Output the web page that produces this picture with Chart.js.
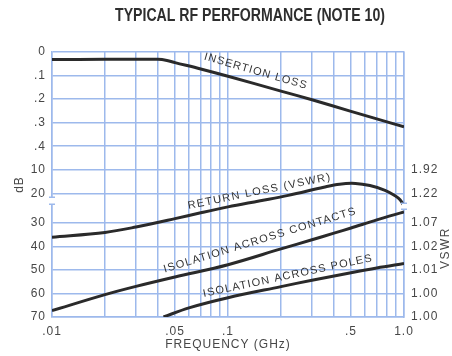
<!DOCTYPE html>
<html>
<head>
<meta charset="utf-8">
<script src="https://cdn.jsdelivr.net/npm/chart.js@4.4.1/dist/chart.umd.min.js"></script>
<style>
  html, body { margin: 0; padding: 0; background: #fff; }
</style>
</head>
<body>
<canvas id="rfChart" width="452" height="356"></canvas>
<script>
// ===== Values =====
// insertion loss (dB, upper 0 - .4 section)
const ilFreq = [0.01, 0.02, 0.03, 0.04, 0.045, 0.05, 0.07, 0.1, 0.2, 0.3, 0.5, 0.7, 1.0];
const insertionLoss = [0.032, 0.031, 0.031, 0.031, 0.036, 0.045, 0.072, 0.103, 0.166, 0.203, 0.252, 0.284, 0.318];

// return loss (dB)
const rlFreq = [0.01, 0.02, 0.03, 0.05, 0.07, 0.1, 0.15, 0.22, 0.35, 0.43, 0.53, 0.64, 0.78, 0.89, 0.95, 1.0];
const returnLoss = [36.1, 34.1, 31.8, 28.6, 26.6, 24.6, 22.6, 20.7, 17.4, 16.1, 15.8, 16.7, 18.7, 20.8, 22.2, 24.2];

// isolation across contacts (dB)
const icFreq = [0.01, 0.02, 0.03, 0.05, 0.1, 0.2, 0.3, 0.4, 0.5, 0.7, 1.0];
const isoContacts = [67.3, 60.5, 57.0, 53.0, 47.8, 41.1, 37.2, 34.4, 32.2, 29.0, 26.3];

// isolation across poles (dB)
const ipFreq = [0.043, 0.06, 0.1, 0.2, 0.3, 0.5, 0.7, 1.0];
const isoPoles = [70, 66.1, 61.8, 57.1, 54.4, 51.2, 49.2, 47.3];

// ===== Ticks =====
const xGridValues = [0.01, 0.02, 0.03, 0.04, 0.05, 0.06, 0.07, 0.08, 0.09,
                     0.1, 0.2, 0.3, 0.4, 0.5, 0.6, 0.7, 0.8, 0.9, 1.0];
const xTickValues = [0.01, 0.05, 0.1, 0.5, 1.0];
const xTickLabels = ['.01', '.05', '.1', '.5', '1.0'];

const ilTicks = [0, 0.1, 0.2, 0.3, 0.4];
const ilTickLabels = ['0', '.1', '.2', '.3', '.4'];
const dbTicks = [10, 20, 30, 40, 50, 60, 70];
const dbTickLabels = ['10', '20', '30', '40', '50', '60', '70'];
const vswrTickLabels = ['1.92', '1.22', '1.07', '1.02', '1.01', '1.00', '1.00'];

// ===== Axis mapping (one grid row per .1 dB / 10 dB, break between 20 and 30) =====
const breakRows = 1.25;
function ilPos(v) { return v * 10; }
function dbPos(d) {
  if (d <= 20) return 4 + d / 10;
  if (d <= 30) return 6 + (d - 20) / 10 * breakRows;
  return 6 + breakRows + (d - 30) / 10;
}

const leftTicks = ilTicks.map((v, i) => ({ pos: ilPos(v), label: ilTickLabels[i] }))
  .concat(dbTicks.map((v, i) => ({ pos: dbPos(v), label: dbTickLabels[i] })));
const rightTicks = dbTicks.map((v, i) => ({ pos: dbPos(v), label: vswrTickLabels[i] }));

const toPoints = (fs, vs, map) => fs.map((f, i) => ({ x: f, y: map(vs[i]) }));

// labels written along the curves
const curveLabels = [
  { text: 'INSERTION LOSS', f: 0.144, y: ilPos(0.082), angle: 16, len: 106 },
  { text: 'RETURN LOSS (VSWR)', f: 0.151, y: dbPos(19.2), angle: -11.5, len: 145 },
  { text: 'ISOLATION ACROSS CONTACTS', f: 0.152, y: dbPos(37.4), angle: -17, len: 200 },
  { text: 'ISOLATION ACROSS POLES', f: 0.219, y: dbPos(52.6), angle: -12, len: 172 }
];

const GRID = '#9db9ec';
const INK = '#2a2a2a';
const TEXT = '#474747';

const extras = {
  id: 'extras',
  beforeDraw(chart) {
    chart.ctx.letterSpacing = '1px';
  },
  afterDraw(chart) {
    const ctx = chart.ctx;
    const { x, y } = chart.scales;
    const area = chart.chartArea;

    // axis breaks
    const y20 = y.getPixelForValue(dbPos(20));
    ctx.save();
    ctx.fillStyle = '#fff';
    ctx.fillRect(area.left - 2, y20 + 4, 4, 7);
    ctx.fillRect(area.right - 2, y20 + 10, 4, 6);
    ctx.strokeStyle = GRID;
    ctx.lineWidth = 1.5;
    ctx.beginPath();
    ctx.moveTo(area.left - 3, y20 + 4); ctx.lineTo(area.left + 3, y20 + 4);
    ctx.moveTo(area.left - 3, y20 + 11); ctx.lineTo(area.left + 3, y20 + 11);
    ctx.moveTo(area.right - 3, y20 + 10); ctx.lineTo(area.right + 3, y20 + 10);
    ctx.moveTo(area.right - 3, y20 + 16); ctx.lineTo(area.right + 3, y20 + 16);
    ctx.stroke();
    ctx.restore();

    // curve labels
    curveLabels.forEach(lab => {
      ctx.save();
      ctx.translate(x.getPixelForValue(lab.f), y.getPixelForValue(lab.y));
      ctx.rotate(lab.angle * Math.PI / 180);
      ctx.font = '11px "Liberation Sans", Arial, sans-serif';
      ctx.letterSpacing = '0px';
      const w = ctx.measureText(lab.text).width;
      ctx.letterSpacing = Math.max(0, (lab.len - w) / (lab.text.length - 1)) + 'px';
      ctx.fillStyle = '#333';
      ctx.textAlign = 'center';
      ctx.textBaseline = 'middle';
      ctx.fillText(lab.text, 0, 0);
      ctx.restore();
    });

    // title
    ctx.save();
    ctx.letterSpacing = '0px';
    ctx.font = 'bold 18px "Liberation Sans", Arial, sans-serif';
    ctx.fillStyle = '#2e2e2e';
    ctx.textAlign = 'center';
    ctx.textBaseline = 'middle';
    ctx.fillText('TYPICAL RF PERFORMANCE (NOTE 10)', 250, 16, 270);
    ctx.restore();

    // right axis title
    ctx.save();
    ctx.translate(446, 248);
    ctx.rotate(-Math.PI / 2);
    ctx.letterSpacing = '1.5px';
    ctx.font = '12px "Liberation Sans", Arial, sans-serif';
    ctx.fillStyle = TEXT;
    ctx.textAlign = 'center';
    ctx.textBaseline = 'middle';
    ctx.fillText('VSWR', 0, 0);
    ctx.restore();
  }
};

const tickFont = { family: '"Liberation Sans", Arial, sans-serif', size: 12 };
const curve = (pts) => ({
  data: pts, borderColor: INK, borderWidth: 3, pointRadius: 0,
  tension: 0.35, fill: false
});

new Chart(document.getElementById('rfChart'), {
  type: 'line',
  data: {
    datasets: [
      curve(toPoints(ilFreq, insertionLoss, ilPos)),
      curve(toPoints(rlFreq, returnLoss, dbPos)),
      curve(toPoints(icFreq, isoContacts, dbPos)),
      curve(toPoints(ipFreq, isoPoles, dbPos))
    ]
  },
  options: {
    responsive: false,
    animation: false,
    layout: { padding: { top: 52, left: 0, right: 0, bottom: 0 } },
    plugins: { legend: { display: false }, tooltip: { enabled: false }, title: { display: false } },
    scales: {
      x: {
        type: 'logarithmic', min: 0.01, max: 1.0,
        afterBuildTicks: s => { s.ticks = xGridValues.map(v => ({ value: v })); },
        afterFit: s => { s.height = 39; },
        grid: { color: GRID, lineWidth: 1.5, drawTicks: false },
        border: { color: GRID, width: 1.5 },
        ticks: {
          autoSkip: false, maxRotation: 0, padding: 7, color: TEXT, font: tickFont,
          callback: v => {
            const i = xTickValues.findIndex(t => Math.abs(t - v) < t * 1e-6);
            return i >= 0 ? xTickLabels[i] : '';
          }
        },
        title: { display: true, text: 'FREQUENCY (GHz)', color: TEXT, font: tickFont, padding: { top: 0, bottom: 4 } }
      },
      y: {
        type: 'linear', position: 'left', reverse: true, min: 0, max: dbPos(70),
        afterBuildTicks: s => { s.ticks = leftTicks.map(t => ({ value: t.pos })); },
        afterFit: s => { s.width = 52; },
        grid: { color: GRID, lineWidth: 1.5, drawTicks: false },
        border: { color: GRID, width: 1.5 },
        ticks: { autoSkip: false, padding: 6, color: TEXT, font: tickFont, callback: (v, i) => leftTicks[i].label },
        title: { display: true, text: 'dB', color: TEXT, font: tickFont, padding: { top: 12, bottom: 0 } }
      },
      y2: {
        type: 'linear', position: 'right', reverse: true, min: 0, max: dbPos(70),
        afterBuildTicks: s => { s.ticks = rightTicks.map(t => ({ value: t.pos })); },
        afterFit: s => { s.width = 48; },
        grid: { display: false, drawTicks: false },
        border: { color: GRID, width: 1.5 },
        ticks: { autoSkip: false, padding: 7, color: TEXT, font: tickFont, callback: (v, i) => rightTicks[i].label }
      }
    }
  },
  plugins: [extras]
});
</script>
</body>
</html>
